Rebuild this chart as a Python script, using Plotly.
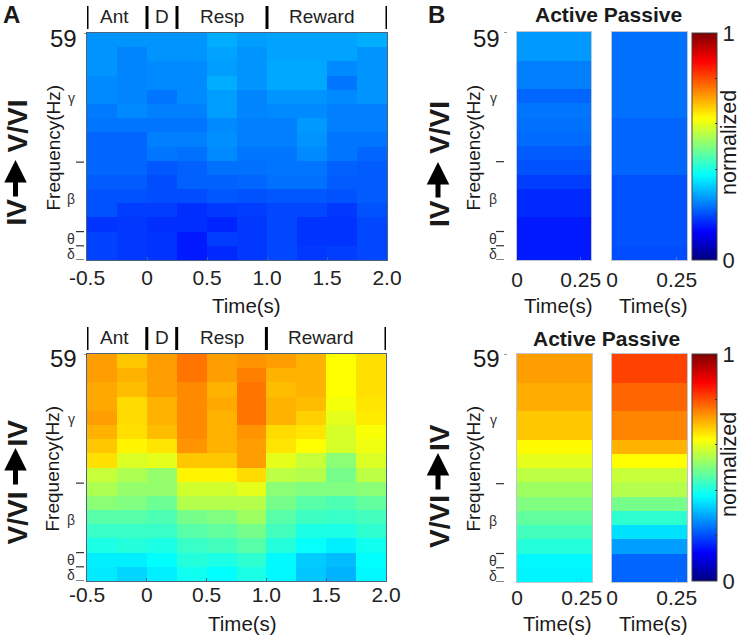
"""
Coherence heatmaps IV->V/VI and V/VI->IV, task epochs (A) and active/passive (B).
"""
import plotly.graph_objects as go

W, H = 742, 635
FONT = "Liberation Sans, Arial, sans-serif"

# Bordes de tiempo y de filas de frecuencia
time_edges = [-0.5, -0.25, 0, 0.25, 0.5, 0.75, 1.0, 1.25, 1.5, 1.75, 2.0]
short_edges = [0, 0.29]
row_edges = list(range(17))

time_ticks = [-0.5, 0, 0.5, 1.0, 1.5, 2.0]
time_labels = ["-0.5", "0", "0.5", "1.0", "1.5", "2.0"]
short_ticks = [0, 0.25]
short_labels = ["0", "0.25"]

epoch_bars = [-0.5, 0, 0.25, 1.0, 2.0]
epoch_names = ["Ant", "D", "Resp", "Reward"]
epoch_centers = [-0.27, 0.125, 0.625, 1.45]

band_dashes = [0, 1, 2, 6.9]
band_names = ["γ", "β", "θ", "δ"]
band_rows = [11.4, 4.3, 1.45, 0.4]

# Valores normalizados, fila superior (59 Hz) primero
up_task = [
    [.27, .27, .27, .27, .295, .28, .285, .285, .285, .295],
    [.27, .255, .27, .27, .285, .27, .285, .285, .285, .27],
    [.27, .255, .26, .26, .28, .27, .29, .29, .26, .27],
    [.26, .255, .26, .26, .295, .27, .29, .29, .24, .27],
    [.26, .255, .24, .26, .28, .255, .27, .27, .26, .27],
    [.245, .26, .25, .25, .28, .255, .26, .26, .25, .25],
    [.24, .24, .24, .24, .26, .25, .25, .275, .25, .25],
    [.225, .225, .25, .25, .265, .25, .25, .27, .24, .24],
    [.225, .225, .24, .235, .26, .24, .24, .26, .24, .225],
    [.225, .225, .21, .22, .235, .235, .24, .24, .22, .215],
    [.215, .215, .20, .22, .22, .225, .235, .235, .215, .215],
    [.205, .205, .20, .20, .21, .205, .21, .21, .205, .215],
    [.205, .185, .185, .17, .18, .185, .195, .195, .18, .205],
    [.175, .18, .17, .17, .16, .18, .195, .175, .175, .195],
    [.19, .18, .175, .15, .185, .18, .195, .175, .175, .195],
    [.19, .18, .175, .15, .165, .18, .195, .18, .185, .195],
]
down_task = [
    [.72, .68, .72, .76, .72, .73, .72, .70, .625, .655],
    [.72, .70, .72, .76, .72, .75, .70, .70, .625, .655],
    [.71, .69, .72, .74, .70, .76, .69, .70, .625, .655],
    [.71, .66, .70, .74, .71, .76, .70, .69, .615, .65],
    [.72, .66, .70, .74, .70, .76, .70, .67, .60, .645],
    [.70, .655, .69, .74, .70, .73, .66, .65, .585, .62],
    [.68, .635, .65, .73, .70, .72, .65, .625, .585, .61],
    [.655, .59, .60, .68, .68, .72, .60, .57, .51, .59],
    [.57, .545, .52, .635, .635, .66, .56, .55, .49, .56],
    [.545, .52, .52, .58, .58, .60, .51, .50, .50, .51],
    [.51, .50, .48, .55, .55, .55, .49, .46, .45, .47],
    [.46, .46, .45, .49, .50, .53, .46, .435, .43, .44],
    [.43, .43, .43, .46, .47, .49, .44, .40, .40, .42],
    [.40, .41, .40, .43, .44, .46, .41, .38, .36, .39],
    [.36, .36, .375, .41, .40, .42, .37, .325, .31, .375],
    [.355, .335, .36, .39, .375, .40, .37, .32, .30, .37],
]
up_active = [.275, .275, .25, .25, .225, .24, .235, .23, .215, .205, .185, .165, .165, .15, .15, .15]
up_passive = [.235, .235, .235, .235, .235, .235, .225, .225, .225, .225, .205, .205, .205, .205, .205, .20]
down_active = [.72, .72, .705, .705, .68, .68, .63, .60, .56, .53, .50, .47, .44, .41, .37, .365]
down_passive = [.81, .81, .775, .775, .745, .745, .70, .625, .57, .55, .49, .42, .345, .28, .225, .225]

# Paleta tipo jet de MATLAB
JET = [
    [0, "#000080"], [0.125, "#0000ff"], [0.375, "#00ffff"],
    [0.625, "#ffff00"], [0.875, "#ff0000"], [1, "#800000"],
]


def fx(px):
    return px / W


def fy(px):
    return 1 - px / H


def column(values):
    return [[v] for v in reversed(values)]


fig = go.Figure()


def add_panel(n, z, x_edges, left, right, top, bottom, ticks, labels, frame, standoff, scale_top=None):
    name = "" if n == 1 else str(n)
    trace = dict(
        x=x_edges, y=row_edges, z=z, zmin=0, zmax=1, colorscale=JET,
        xaxis="x" + name, yaxis="y" + name, showscale=False,
    )
    if scale_top is not None:
        trace.update(
            showscale=True,
            colorbar=dict(
                x=fx(692), xanchor="left", xpad=0, y=fy(scale_top), yanchor="top", ypad=0,
                thickness=25, thicknessmode="pixels", len=227, lenmode="pixels",
                outlinewidth=1, outlinecolor="#444",
                tickvals=[0, .2, .4, .6, .8, 1], ticktext=["0", "", "", "", "", "1"],
                ticks="inside", ticklen=2, tickcolor="#333",
                tickfont=dict(size=22, color="#222", family=FONT),
            ),
        )
    fig.add_trace(go.Heatmap(**trace))
    fig.update_layout({
        "xaxis" + name: dict(
            domain=[fx(left), fx(right)], range=[x_edges[0], x_edges[-1]], anchor="y" + name,
            tickvals=ticks, ticktext=labels, ticks="inside", ticklen=3, tickcolor=frame,
            tickfont=dict(size=21, color="#222", family=FONT),
            showgrid=False, zeroline=False, showline=True, linecolor=frame, mirror=True,
            ticklabelstandoff=standoff,
        ),
        "yaxis" + name: dict(
            domain=[fy(bottom), fy(top)], range=[0, 16], anchor="x" + name,
            showticklabels=False, ticks="", showgrid=False, zeroline=False,
            showline=True, linecolor=frame, mirror=True,
        ),
    })


def text(x, y, s, size, rot=0, bold=False, xanchor="center"):
    fig.add_annotation(
        x=fx(x), y=fy(y), xref="paper", yref="paper", text="<b>%s</b>" % s if bold else s,
        showarrow=False, textangle=rot, xanchor=xanchor, yanchor="middle",
        font=dict(size=size, color="#1a1a1a", family=FONT),
    )


def arrow(x, tail_y, tip_y):
    fig.add_annotation(
        x=fx(x), y=fy(tip_y), xref="paper", yref="paper", ax=0, ay=tail_y - tip_y, text="",
        showarrow=True, arrowhead=2, arrowsize=0.9, arrowwidth=5, arrowcolor="black",
    )


def freq_axis(n, tick_x, dash_x, band_x, label_right, top, bottom, title_x):
    name = "" if n == 1 else str(n)
    mid = (top + bottom) / 2
    text(label_right, top + 5, "59", 24, xanchor="right")
    fig.add_shape(type="line", xref="paper", yref="y" + name, x0=fx(tick_x - 3), x1=fx(tick_x),
                  y0=16, y1=16, line=dict(color="#333", width=1))
    for d in band_dashes:
        fig.add_shape(type="line", xref="paper", yref="y" + name, x0=fx(dash_x), x1=fx(dash_x + 8),
                      y0=d, y1=d, line=dict(color="#333", width=1.2))
    for b, r in zip(band_names, band_rows):
        fig.add_annotation(x=fx(band_x), y=r, xref="paper", yref="y" + name, text=b, showarrow=False,
                           xanchor="center", yanchor="middle",
                           font=dict(size=14, color="#333", family=FONT))
    text(title_x, mid + 1, "Frequency(Hz)", 19, rot=-90)


def row_title(x, iv_y, tail, tip, v_y):
    text(x, iv_y, "IV", 28, rot=-90, bold=True)
    arrow(x - 1, tail, tip)
    text(x, v_y, "V/VI", 28, rot=-90, bold=True)


def epochs(n, top):
    name = "" if n == 1 else str(n)
    for b in epoch_bars:
        fig.add_shape(type="line", xref="x" + name, yref="paper", x0=b, x1=b,
                      y0=fy(top - 27), y1=fy(top - 4), line=dict(color="black", width=3))
    for c, s in zip(epoch_centers, epoch_names):
        fig.add_annotation(x=c, y=fy(top - 17), xref="x" + name, yref="paper", text=s, showarrow=False,
                           xanchor="center", yanchor="middle",
                           font=dict(size=19, color="#222", family=FONT))


A_FRAME = "#4d6480"
B_FRAME = "rgba(140,150,170,0.55)"

add_panel(1, up_task[::-1], time_edges, 87, 387, 33, 260, time_ticks, time_labels, A_FRAME, -1)
add_panel(2, column(up_active), short_edges, 517, 591, 32, 260, short_ticks, short_labels, B_FRAME, 1)
add_panel(3, column(up_passive), short_edges, 612, 687, 32, 260, short_ticks, short_labels, B_FRAME, 1, scale_top=33)
add_panel(4, down_task[::-1], time_edges, 87, 386, 354, 581, time_ticks, time_labels, A_FRAME, -5)
add_panel(5, column(down_active), short_edges, 517, 592, 354, 582, short_ticks, short_labels, B_FRAME, -3)
add_panel(6, column(down_passive), short_edges, 612, 687, 354, 582, short_ticks, short_labels, B_FRAME, -3, scale_top=354)

freq_axis(1, 87, 76, 71, 79, 33, 260, 53)
freq_axis(2, 507, 496, 493, 502, 33, 260, 473)
freq_axis(4, 87, 76, 71, 79, 354, 581, 52)
freq_axis(5, 507, 496, 493, 502, 354, 581, 473)
epochs(1, 33)
epochs(4, 354)

# Rótulos de dirección, con flecha dibujada aparte
row_title(16.5, 212, 198, 160, 126)
row_title(439, 214, 199, 162, 128)
text(16.5, 518, "V/VI", 28, rot=-90, bold=True)
arrow(15.5, 486, 448)
text(16.5, 433, "IV", 28, rot=-90, bold=True)
text(439, 522, "V/VI", 28, rot=-90, bold=True)
arrow(438, 491, 453)
text(439, 438, "IV", 28, rot=-90, bold=True)

text(11, 14, "A", 24, bold=True)
text(436, 14, "B", 24, bold=True)
text(608, 14, "Active Passive", 21, bold=True)
text(606, 338, "Active Passive", 21, bold=True)
text(729, 143, "normalized", 21.5, rot=-90)
text(729, 465, "normalized", 21.5, rot=-90)
for x, y in [(247, 305), (558, 305), (653, 305), (242, 623), (557, 623), (653, 623)]:
    text(x, y, "Time(s)", 20.5)

fig.update_layout(
    width=W, height=H, margin=dict(l=0, r=0, t=0, b=0, autoexpand=False),
    plot_bgcolor="white", paper_bgcolor="white", showlegend=False,
)

fig.write_html("out.html", config={"displayModeBar": False},
               post_script="document.body.style.margin='0';")
